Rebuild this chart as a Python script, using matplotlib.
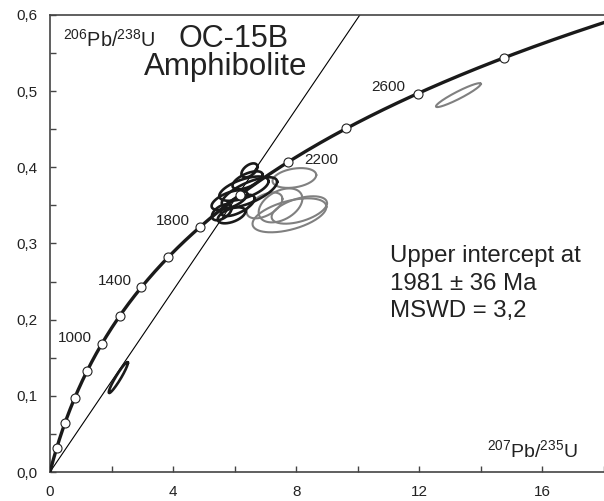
import numpy as np
import matplotlib.pyplot as plt
from matplotlib.ticker import MultipleLocator, FuncFormatter

plt.rcParams['font.family'] = ['Liberation Sans', 'DejaVu Sans']
plt.rcParams['mathtext.fontset'] = 'custom'
plt.rcParams['mathtext.rm'] = 'Liberation Sans'

# decay constants (1/yr)
L238 = 1.55125e-10
L235 = 9.8485e-10

# concordia age markers (Ma) and the ones that carry a label
marker_ages = [200, 400, 600, 800, 1000, 1200, 1400, 1600, 1800, 2000, 2200, 2400, 2600, 2800]
label_ages = [1000, 1400, 1800, 2200, 2600]
label_pos = [(0.8, 0.176), (2.1, 0.251), (4.0, 0.330), (8.8, 0.409), (11.0, 0.505)]

upper_intercept = 1981  # Ma
lower_intercept = 0

# analyses: 207Pb/235U, 206Pb/238U, half-width x, half-width y, rho
black_x = [2.22, 6.48, 6.42, 6.48, 6.30, 5.83, 5.58, 5.90, 6.10]
black_y = [0.124, 0.396, 0.383, 0.367, 0.372, 0.357, 0.341, 0.337, 0.350]
black_sx = [0.31, 0.26, 0.49, 0.90, 0.80, 0.58, 0.32, 0.45, 0.55]
black_sy = [0.0203, 0.0092, 0.0118, 0.0200, 0.0160, 0.013, 0.0105, 0.0105, 0.0140]
black_rho = [0.95, 0.5, 0.6, 0.7, 0.6, 0.6, 0.5, 0.5, 0.65]

gray_x = [13.27, 7.94, 7.78, 7.49, 6.97, 8.10]
gray_y = [0.4948, 0.386, 0.337, 0.350, 0.350, 0.344]
gray_sx = [0.73, 0.71, 1.20, 0.71, 0.58, 0.90]
gray_sy = [0.0157, 0.013, 0.0223, 0.0223, 0.017, 0.018]
gray_rho = [0.94, 0.3, 0.5, 0.4, 0.5, 0.5]


def concordia(age_ma):
    t = np.asarray(age_ma) * 1e6
    return np.exp(L235 * t) - 1, np.exp(L238 * t) - 1


def error_ellipse(ax, x, y, sx, sy, rho, color, lw):
    t = np.linspace(0, 2 * np.pi, 200)
    ex = x + sx * np.cos(t)
    ey = y + sy * (rho * np.cos(t) + np.sqrt(1 - rho ** 2) * np.sin(t))
    ax.plot(ex, ey, color=color, lw=lw, zorder=3)


fig = plt.figure(figsize=(6.04, 5.01), dpi=100)
ax = fig.add_axes([50 / 604, 29 / 501, 554 / 604, 457 / 501])

# discordia
dx, dy = concordia([lower_intercept, upper_intercept])
slope = (dy[1] - dy[0]) / (dx[1] - dx[0])
xl = np.array([0, 18])
ax.plot(xl, dy[0] + slope * (xl - dx[0]), color='black', lw=0.8, zorder=2)

# concordia curve
ages = np.linspace(0, 3100, 400)
cx, cy = concordia(ages)
ax.plot(cx, cy, color='#1a1a1a', lw=2.4, zorder=4)

for i in range(len(gray_x)):
    error_ellipse(ax, gray_x[i], gray_y[i], gray_sx[i], gray_sy[i], gray_rho[i], '#808080', 1.5)
for i in range(len(black_x)):
    error_ellipse(ax, black_x[i], black_y[i], black_sx[i], black_sy[i], black_rho[i], '#1a1a1a', 1.9)

mx, my = concordia(marker_ages)
ax.plot(mx, my, 'o', ms=6.5, mfc='white', mec='#222222', mew=0.8, zorder=5)

for age, (lx, ly) in zip(label_ages, label_pos):
    ax.text(lx, ly, str(age), fontsize=11, ha='center', va='center', color='#222222')

ax.set_xlim(0, 18)
ax.set_ylim(0, 0.6)
ax.xaxis.set_major_locator(MultipleLocator(4))
ax.xaxis.set_minor_locator(MultipleLocator(2))
ax.yaxis.set_major_locator(MultipleLocator(0.1))
ax.yaxis.set_minor_locator(MultipleLocator(0.05))
ax.yaxis.set_major_formatter(FuncFormatter(lambda v, p: f'{v:.1f}'.replace('.', ',')))
ax.tick_params(which='both', direction='in', length=4, width=1, color='#444444',
               labelsize=11, labelcolor='#222222', pad=9)
ax.spines['right'].set_visible(False)
for s in ['left', 'bottom', 'top']:
    ax.spines[s].set_color('#444444')
    ax.spines[s].set_linewidth(1.2)

ax.text(0.0235, 0.930, r'$\mathregular{^{206}}$Pb/$\mathregular{^{238}}$U', transform=ax.transAxes,
        fontsize=14.3, va='baseline', ha='left', color='#222222')
ax.text(0.789, 0.033, r'$\mathregular{^{207}}$Pb/$\mathregular{^{235}}$U', transform=ax.transAxes,
        fontsize=14, va='baseline', ha='left', color='#222222')
ax.text(0.332, 0.930, 'OC-15B', transform=ax.transAxes, fontsize=22, ha='center', va='baseline',
        color='#222222')
ax.text(0.317, 0.869, 'Amphibolite', transform=ax.transAxes, fontsize=22.5, ha='center', va='baseline',
        color='#222222')

info = ['Upper intercept at', '1981 \u00b1 36 Ma', 'MSWD = 3,2']
for k, line in enumerate(info):
    ax.text(0.614, (472 - 262 - 27.5 * k) / 457, line, transform=ax.transAxes, fontsize=17.3,
            ha='left', va='baseline', color='#222222')

fig.savefig('out.png', dpi=100)
